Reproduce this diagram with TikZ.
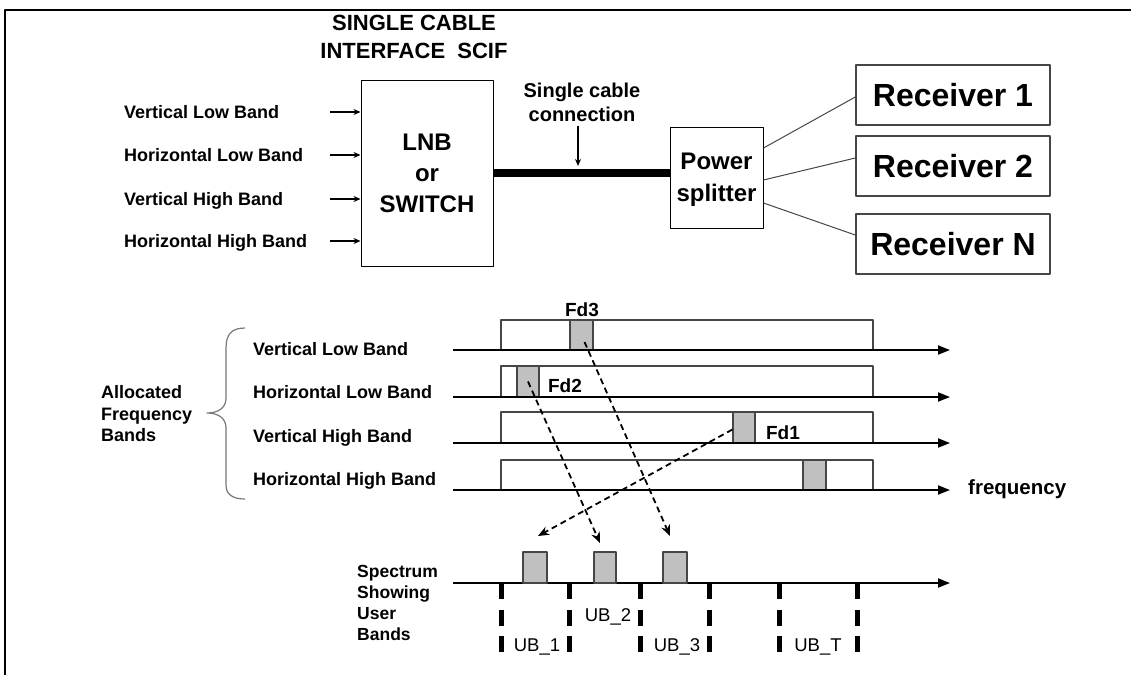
\documentclass[tikz,border=0pt]{standalone}
\usepackage{fontspec}
\setmainfont{Liberation Sans}
\usetikzlibrary{arrows.meta}
\definecolor{bandgray}{RGB}{192,192,192}
\definecolor{edgegray}{RGB}{70,70,70}
\definecolor{bracegray}{RGB}{120,120,120}
\begin{document}
\begin{tikzpicture}[x=1pt,y=-1pt,line join=round,
	box/.style={draw,line width=1pt,inner sep=0pt,align=center,font=\fontsize{24}{31}\selectfont\bfseries},
	rcv/.style={draw=edgegray,line width=1.5pt,minimum width=194pt,minimum height=60pt,inner sep=0pt,font=\fontsize{32}{38}\selectfont\bfseries},
	lbl/.style={inner sep=0pt,anchor=base west,font=\fontsize{18}{21.5}\selectfont\bfseries},
	ublbl/.style={inner sep=0pt,anchor=base,font=\fontsize{18.5}{21}\selectfont},
	fdlbl/.style={inner sep=0pt,anchor=base,font=\fontsize{19}{22}\selectfont\bfseries},
	band/.style={draw=edgegray,line width=1.2pt},
	gbox/.style={draw=edgegray,line width=1.2pt,fill=bandgray,inner sep=0pt},
	freqaxis/.style={line width=1.8pt,-{Triangle[length=12pt,width=9pt]}},
	inarrow/.style={line width=1.5pt,-{Stealth[length=7pt,width=6pt]}},
	hop/.style={dash pattern=on 6pt off 4pt,line width=1.8pt,-{Stealth[length=11pt,width=9pt]}},
	ubtick/.style={line width=5pt,dash pattern=on 16pt off 10.5pt}]
	\useasboundingbox (0,0) rectangle (1131,675);
	\draw[line width=2.5pt] (5,675) -- (5,10) -- (1131,10);
	% upper part: LNB, cable, splitter, receivers
	\node[inner sep=0pt,anchor=north,align=center,font=\fontsize{22}{28}\selectfont\bfseries] (scif) at (414,15) {SINGLE CABLE\\INTERFACE\ \ SCIF};
	\node[box,minimum width=132pt,minimum height=186pt] (lnb) at (427,173) {LNB\\or\\SWITCH};
	\foreach \t/\y [count=\i] in {Vertical Low Band/112,Horizontal Low Band/155,Vertical High Band/199,Horizontal High Band/241} {
		\node[lbl] (in\i) at (124,\y+6.5) {\t};
		\coordinate (inA\i) at (330,\y);
		\draw[inarrow] (inA\i) -- (inA\i -| lnb.west);
	}
	\node[box,minimum width=93pt,minimum height=101pt,text depth=0pt,font=\fontsize{24}{32}\selectfont\bfseries] (split) at (716.5,177.5) {Power\\splitter};
	\coordinate (cab) at (578,173);
	\draw[line width=8pt] (lnb.east |- cab) -- (split.west |- cab);
	\node[inner sep=0pt,anchor=north,align=center,font=\fontsize{20}{23.5}\selectfont\bfseries] (cabtxt) at (582,83) {Single cable\\connection};
	\coordinate (cabtip) at (578,166);
	\draw[inarrow,shorten <=4pt] (cabtxt.south -| cabtip) -- (cabtip);
	\foreach \n/\y in {1/95,2/166,N/244} \node[rcv] (rcv\n) at (953,\y) {Receiver \n};
	\draw[edgegray,line width=1pt] ([yshift=29.5pt]split.east) -- ([yshift=-2pt]rcv1.west);
	\draw[edgegray,line width=1pt] ([yshift=-2.5pt]split.east) -- ([yshift=8pt]rcv2.west);
	\draw[edgegray,line width=1pt] ([yshift=-25.5pt]split.east) -- ([yshift=9pt]rcvN.west);
	% lower part: allocated bands
	\foreach \top/\y in {320/350,366/397,412/443,460/490}
		\draw[band] (501,\y) -- (501,\top) -- (873,\top) -- (873,\y);
	\node[gbox,minimum width=23pt,minimum height=30pt] (fd3) at (581.5,335) {};
	\node[gbox,minimum width=22pt,minimum height=31pt] (fd2) at (528,381.5) {};
	\node[gbox,minimum width=22pt,minimum height=31pt] (fd1) at (744,427.5) {};
	\node[gbox,minimum width=23pt,minimum height=30pt] (fd4) at (814.5,475) {};
	\foreach \t/\y/\b [count=\i] in {Vertical Low Band/350/355.5,Horizontal Low Band/397/398.5,Vertical High Band/443/442.5,Horizontal High Band/490/485.5} {
		\coordinate (ax\i) at (453,\y);
		\coordinate (axe\i) at (950,\y);
		\draw[freqaxis] (ax\i) -- (axe\i);
		\node[lbl] (band\i) at (253,\b) {\t};
	}
	\node[fdlbl] (fd3t) at (582,316) {Fd3};
	\node[fdlbl] (fd2t) at (565,392) {Fd2};
	\node[fdlbl] (fd1t) at (783,439) {Fd1};
	\node[lbl,font=\fontsize{20.5}{24}\selectfont\bfseries] (freq) at (968,494) {frequency};
	\draw[bracegray,line width=1.2pt] (245,328) .. controls (232,328) and (226,334) .. (226,348) -- (226,398)
		.. controls (226,408) and (218,413) .. (207,413) .. controls (218,413) and (226,418) .. (226,428)
		-- (226,485) .. controls (226,494) and (232,499) .. (245,499);
	\node[inner sep=0pt,anchor=north west,align=left,font=\fontsize{18}{21.5}\selectfont\bfseries] (alloc) at (101,385.5) {Allocated\\Frequency\\Bands};
	% spectrum with user bands
	\coordinate (sp0) at (453,583);
	\coordinate (sp1) at (950,583);
	\foreach \x in {501,569,640,709,779,857} \draw[ubtick] (\x,583) -- (\x,653);
	\draw[freqaxis] (sp0) -- (sp1);
	\node[gbox,minimum width=24pt,minimum height=31pt] (ub1b) at (535,567.5) {};
	\node[gbox,minimum width=22pt,minimum height=31pt] (ub2b) at (605,567.5) {};
	\node[gbox,minimum width=24pt,minimum height=31pt] (ub3b) at (675,567.5) {};
	\foreach \t/\x/\y in {UB\_1/537/651.5,UB\_2/608/621.5,UB\_3/677/651.5,UB\_T/818/651.5}
		\node[ublbl] at (\x,\y) {\t};
	\node[inner sep=0pt,anchor=north west,align=left,font=\fontsize{17.5}{21}\selectfont\bfseries] (spec) at (357,565.5) {Spectrum\\Showing\\User\\Bands};
	\coordinate (tip3) at (670,536);
	\coordinate (tip2) at (600,543);
	\coordinate (tip1) at (538,536);
	\draw[hop] ([xshift=3pt,yshift=-7pt]fd3.center) -- (tip3);
	\draw[hop] (fd2.center) -- (tip2);
	\draw[hop] ([yshift=-2pt]fd1.west) -- (tip1);
\end{tikzpicture}
\end{document}
